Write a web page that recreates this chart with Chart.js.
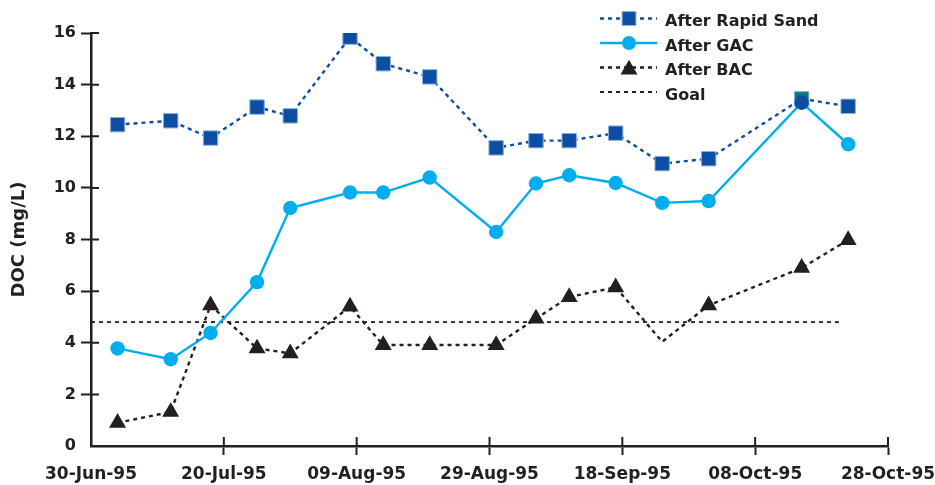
<!DOCTYPE html>
<html>
<head>
<meta charset="utf-8">
<script src="https://cdn.jsdelivr.net/npm/chart.js@4.4.1/dist/chart.umd.min.js"></script>
<style>
  html, body { margin: 0; padding: 0; background: #fff; }
  #chart { display: block; }
</style>
</head>
<body>
<canvas id="chart" width="935" height="485"></canvas>
<script>
// sample dates, as days counted from 30-Jun-95
const sampleDays = [4, 12, 18, 25, 30, 39, 44, 51, 61, 67, 72, 79, 86, 93, 107, 114];
const rapidSand = [12.45, 12.6, 11.93, 13.13, 12.79, 15.84, 14.81, 14.3, 11.55, 11.83, 11.83, 12.12, 10.94, 11.13, 13.45, 13.16];
const gac = [3.78, 3.36, 4.38, 6.35, 9.22, 9.82, 9.82, 10.4, 8.29, 10.17, 10.49, 10.19, 9.42, 9.49, 13.3, 11.69];
const bac = [0.9, 1.32, 5.45, 3.78, 3.59, 5.4, 3.91, 3.91, 3.91, 4.94, 5.77, 6.15, 4.04, 5.45, 6.9, 7.98];
const goalDays = [0, 112.6];
const goalDoc = [4.8, 4.8];
const xTickLabels = ['30-Jun-95', '20-Jul-95', '09-Aug-95', '29-Aug-95', '18-Sep-95', '08-Oct-95', '28-Oct-95'];

const ink = '#231f20';
const darkBlue = '#0b4ea2';
const lightBlue = '#00aeef';
const teal = '#0a7b7d';

const toPoints = (xs, ys) => xs.map((x, i) => ({ x: x, y: ys[i] }));

Chart.defaults.font.family = '"DejaVu Sans", sans-serif';
Chart.defaults.font.weight = 'bold';
Chart.defaults.font.size = 16;
Chart.defaults.color = ink;

// ticks in the original cross the axis line, chart.js only draws the outer half
const innerTicks = {
  id: 'innerTicks',
  beforeDatasetsDraw(chart) {
    const { ctx, scales: { x, y } } = chart;
    ctx.save();
    ctx.strokeStyle = ink;
    ctx.lineWidth = 2;
    ctx.beginPath();
    x.ticks.forEach(t => {
      if (t.value === 0) return;
      const px = x.getPixelForValue(t.value);
      ctx.moveTo(px, y.bottom);
      ctx.lineTo(px, y.bottom - 9);
    });
    y.ticks.forEach(t => {
      if (t.value === 0) return;
      const py = y.getPixelForValue(t.value);
      ctx.moveTo(x.left, py);
      ctx.lineTo(x.left + 8, py);
    });
    ctx.stroke();
    ctx.restore();
  }
};

function drawMarker(ctx, style, r, x, y, fill, stroke) {
  ctx.beginPath();
  if (style === 'rect') {
    const s = r * Math.SQRT1_2;
    ctx.rect(x - s, y - s, 2 * s, 2 * s);
  } else if (style === 'circle') {
    ctx.arc(x, y, r, 0, Math.PI * 2);
  } else if (style === 'triangle') {
    ctx.moveTo(x, y - r);
    ctx.lineTo(x + r * Math.sin(Math.PI * 2 / 3), y + r / 2);
    ctx.lineTo(x - r * Math.sin(Math.PI * 2 / 3), y + r / 2);
    ctx.closePath();
  }
  ctx.fillStyle = fill;
  ctx.fill();
  if (stroke) {
    ctx.lineWidth = 1;
    ctx.strokeStyle = stroke;
    ctx.stroke();
  }
}

// legend sits inside the plot, top right, line + marker like excel
const cornerLegend = {
  id: 'cornerLegend',
  afterDraw(chart) {
    const ctx = chart.ctx;
    const x0 = 600, x1 = 657, textX = 665;
    let base = 26;
    ctx.save();
    ctx.font = 'bold 16px "DejaVu Sans"';
    ctx.textAlign = 'left';
    ctx.textBaseline = 'alphabetic';
    chart.data.datasets.slice().sort((a, b) => a.legendIndex - b.legendIndex).forEach(ds => {
      const my = base - 7.5;
      ctx.beginPath();
      ctx.setLineDash(ds.borderDash || []);
      ctx.lineWidth = ds.borderWidth;
      ctx.strokeStyle = ds.borderColor;
      ctx.moveTo(x0, my);
      ctx.lineTo(x1, my);
      ctx.stroke();
      ctx.setLineDash([]);
      if (ds.legendMarker) {
        const m = ds.legendMarker;
        drawMarker(ctx, m.style, m.radius, (x0 + x1) / 2 + 0.5, m.style === 'triangle' ? my + 2 : my, m.fill, m.stroke);
      }
      ctx.fillStyle = ink;
      ctx.fillText(ds.label, textX, base);
      base += 24.5;
    });
    ctx.restore();
  }
};

const rsPointColors = rapidSand.map((v, i) => i === 14 ? teal : darkBlue);
const gacPointColors = gac.map((v, i) => i === 14 ? darkBlue : lightBlue);
const bacRadius = bac.map((v, i) => i === 12 ? 0 : 9.8);

new Chart(document.getElementById('chart'), {
  type: 'line',
  data: {
    datasets: [
      {
        label: 'After Rapid Sand',
        legendIndex: 0,
        data: toPoints(sampleDays, rapidSand),
        borderColor: darkBlue,
        borderWidth: 2.4,
        borderDash: [4, 4],
        pointStyle: 'rect',
        pointRadius: 10.2,
        pointBackgroundColor: rsPointColors,
        pointBorderColor: '#8fb0dc',
        pointBorderWidth: 1,
        legendMarker: { style: 'rect', radius: 9.8, fill: darkBlue, stroke: '#8fb0dc' },
        order: 1
      },
      {
        label: 'After GAC',
        legendIndex: 1,
        data: toPoints(sampleDays, gac),
        borderColor: lightBlue,
        borderWidth: 2.4,
        pointStyle: 'circle',
        pointRadius: 7.2,
        pointBackgroundColor: gacPointColors,
        pointBorderColor: gacPointColors,
        pointBorderWidth: 0,
        legendMarker: { style: 'circle', radius: 7, fill: lightBlue },
        order: 0
      },
      {
        label: 'After BAC',
        legendIndex: 2,
        data: toPoints(sampleDays, bac),
        borderColor: ink,
        borderWidth: 2.4,
        borderDash: [4, 4],
        pointStyle: 'triangle',
        pointRadius: bacRadius,
        pointBackgroundColor: ink,
        pointBorderWidth: 0,
        legendMarker: { style: 'triangle', radius: 9.8, fill: ink },
        order: 2
      },
      {
        label: 'Goal',
        legendIndex: 3,
        data: toPoints(goalDays, goalDoc),
        borderColor: ink,
        borderWidth: 1.8,
        borderDash: [4, 4],
        pointRadius: 0,
        order: 3
      }
    ]
  },
  options: {
    responsive: false,
    animation: false,
    layout: { padding: { top: 33, right: 47, left: 0, bottom: 0 } },
    plugins: {
      legend: { display: false },
      tooltip: { enabled: false }
    },
    elements: { line: { tension: 0 } },
    scales: {
      x: {
        type: 'linear',
        min: 0,
        max: 120,
        afterFit: s => { s.height = 39; s.paddingLeft = 0; s.paddingRight = 47; },
        grid: {
          drawOnChartArea: false,
          tickLength: 9,
          tickWidth: 2,
          tickColor: c => (c.tick && c.tick.value === 0) ? 'rgba(0,0,0,0)' : ink
        },
        border: { color: ink, width: 2.5 },
        ticks: {
          stepSize: 20,
          maxRotation: 0,
          padding: 9,
          font: { size: 17 },
          callback: v => xTickLabels[v / 20]
        }
      },
      y: {
        min: 0,
        max: 16,
        afterFit: s => { s.width = 91; },
        title: { display: true, text: 'DOC (mg/L)', font: { size: 18, weight: 'bold' }, padding: { top: 9, bottom: 0 } },
        grid: {
          drawOnChartArea: false,
          tickLength: 10,
          tickWidth: 2,
          tickColor: c => (c.tick && c.tick.value === 0) ? 'rgba(0,0,0,0)' : ink
        },
        border: { color: ink, width: 2.5 },
        ticks: { stepSize: 2, padding: 5 }
      }
    }
  },
  plugins: [innerTicks, cornerLegend]
});
</script>
</body>
</html>
